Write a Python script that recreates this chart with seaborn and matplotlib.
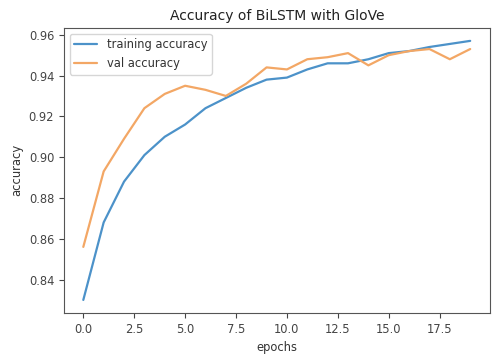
import matplotlib
matplotlib.use("Agg")
import matplotlib.pyplot as plt
import numpy as np
import pandas as pd
import seaborn as sns

# values
epochs = list(range(20))
train_acc = [0.830, 0.868, 0.888, 0.901, 0.910, 0.916, 0.924, 0.929, 0.934, 0.938,
             0.939, 0.943, 0.946, 0.946, 0.948, 0.951, 0.952, 0.954, 0.9555, 0.957]
val_acc = [0.856, 0.893, 0.909, 0.924, 0.931, 0.935, 0.933, 0.930, 0.936, 0.944,
           0.943, 0.948, 0.949, 0.951, 0.945, 0.950, 0.952, 0.953, 0.948, 0.953]

df = pd.DataFrame({
    "epochs": epochs * 2,
    "accuracy": train_acc + val_acc,
    "series": ["training accuracy"] * 20 + ["val accuracy"] * 20,
})

sns.set_style("ticks")
plt.rcParams["font.family"] = ["DejaVu Sans"]

fig, ax = plt.subplots(figsize=(4.92, 3.58), dpi=100)
fig.subplots_adjust(left=0.13, right=0.995, bottom=0.126, top=0.922)

sns.lineplot(data=df, x="epochs", y="accuracy", hue="series",
             palette=["#4c92c9", "#f3a765"], linewidth=1.6, ax=ax)

ax.set_xticks(np.arange(0, 20, 2.5))
ax.set_yticks(np.arange(0.84, 0.961, 0.02))
ax.tick_params(labelsize=8.3, colors="#444444")
ax.set_xlabel("epochs", fontsize=8.3, color="#333333")
ax.set_ylabel("accuracy", fontsize=8.3, color="#333333")
ax.set_title("Accuracy of BiLSTM with GloVe", fontsize=10, color="#222222")
leg = ax.legend(loc="upper left", fontsize=8.3, title=None)
for t in leg.get_texts():
    t.set_color("#333333")
for spine in ax.spines.values():
    spine.set_visible(True)
    spine.set_edgecolor("#555555")

fig.savefig("out.png", dpi=100)
